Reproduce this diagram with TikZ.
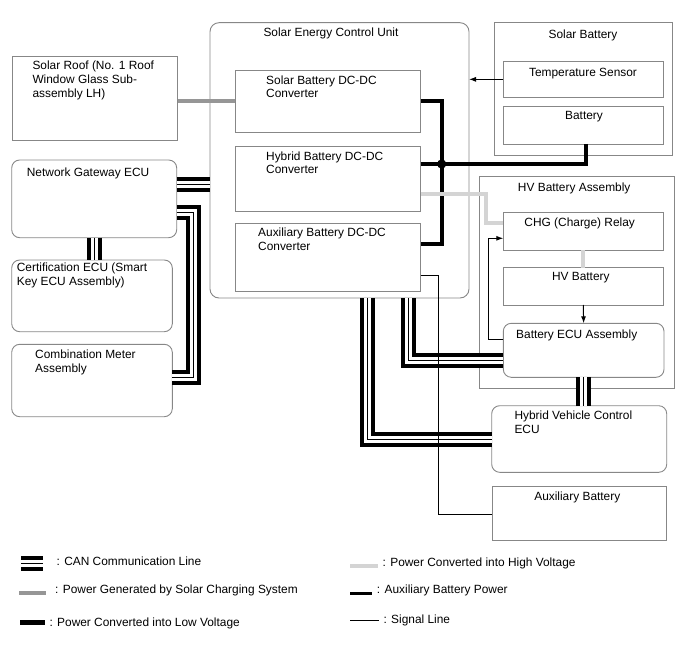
\documentclass[tikz,border=0pt]{standalone}
\usepackage{fontspec}
\setmainfont{Liberation Sans}
\usetikzlibrary{arrows.meta}
\definecolor{boxc}{RGB}{135,135,135}
\definecolor{solarc}{RGB}{150,150,150}
\definecolor{hvc}{RGB}{212,212,212}
\begin{document}
\begin{tikzpicture}[x=1pt,y=-1pt,
  box/.style={draw=boxc, line width=0.9pt, anchor=north west, inner sep=0pt, outer sep=0pt},
  rbox/.style={box, rounded corners=8pt},
  txt/.style={font=\fontsize{11.9}{14}\selectfont, inner sep=0pt, align=left, anchor=north west, execute at begin node={\rule{0pt}{10pt}}},
  ctxt/.style={font=\fontsize{11.9}{14}\selectfont, inner sep=0pt, anchor=base},
  ltxt/.style={font=\fontsize{11.9}{14}\selectfont, inner sep=0pt, anchor=base west},
  can/.style={line width=15pt, draw=black, line join=miter, postaction={draw=white, line width=7pt}, postaction={draw=black, line width=1pt}},
  lowv/.style={line width=4pt, black, line join=miter},
  auxp/.style={line width=4pt, black, line join=miter},
  solar/.style={line width=4pt, solarc},
  hv/.style={line width=4pt, hvc, line join=miter},
  sig/.style={line width=1pt, black},
  arr/.style={-{Latex[length=7pt,width=5pt]}},
]
\useasboundingbox (0,0) rectangle (688,658);

% ---- boxes ----
\node[rbox, rounded corners=9pt, minimum width=259pt, minimum height=275.3pt] (secu) at (210,22.7) {};
\node[box, minimum width=165pt, minimum height=83.3pt] (sroof) at (12.7,56.7) {};
\node[box, minimum width=185.4pt, minimum height=62pt] (sbdc) at (235.3,70) {};
\node[box, minimum width=185.4pt, minimum height=65.4pt] (hbdc) at (235.3,146.3) {};
\node[box, minimum width=185.4pt, minimum height=68.4pt] (abdc) at (235.3,223.3) {};
\node[box, minimum width=178.4pt, minimum height=132.3pt] (sbat) at (494.3,22.7) {};
\node[box, minimum width=160pt, minimum height=36.7pt] (ts) at (503.3,61) {};
\node[box, minimum width=160pt, minimum height=37.3pt] (bat) at (503.3,106.7) {};
\node[box, minimum width=195.3pt, minimum height=211.6pt] (hvasm) at (479,176.7) {};
\node[box, minimum width=160pt, minimum height=37.6pt] (chg) at (503.3,212.7) {};
\node[box, minimum width=160pt, minimum height=37.3pt] (hvb) at (503.3,267.7) {};
\node[rbox, minimum width=160.7pt, minimum height=54pt] (becu) at (503.3,323.3) {};
\node[rbox, minimum width=175pt, minimum height=66.6pt] (hvecu) at (491.7,405.7) {};
\node[box, minimum width=174.4pt, minimum height=53.3pt] (auxb) at (492.3,486.7) {};
\node[rbox, minimum width=165pt, minimum height=77.7pt] (gw) at (11.7,160) {};
\node[rbox, minimum width=160.6pt, minimum height=71.7pt] (cert) at (11.7,260) {};
\node[rbox, minimum width=160.6pt, minimum height=72.4pt] (meter) at (11.7,344.3) {};

% ---- texts ----
\node[ctxt] (tsecu) at (331,36.2) {Solar Energy Control Unit};
\node[txt] (tsroof) at (32.3,60.2) {Solar Roof (No. 1 Roof\\Window Glass Sub-\\assembly LH)};
\node[txt, font=\fontsize{11.9}{12.8}\selectfont] (tsbdc) at (266,75.9) {Solar Battery DC-DC\\Converter};
\node[txt, font=\fontsize{11.9}{13.2}\selectfont] (thbdc) at (266,151.2) {Hybrid Battery DC-DC\\Converter};
\node[txt] (tabdc) at (258,227.2) {Auxiliary Battery DC-DC\\Converter};
\node[ctxt] (tsbat) at (583,38.2) {Solar Battery};
\node[ctxt] (tts) at (583,76.2) {Temperature Sensor};
\node[ctxt] (tbat) at (584,119.9) {Battery};
\node[ctxt] (thvasm) at (574.2,191.5) {HV Battery Assembly};
\node[ctxt] (tchg) at (579.7,226.5) {CHG (Charge) Relay};
\node[ctxt] (thvb) at (580.8,280.9) {HV Battery};
\node[txt] (tbecu) at (516,328.2) {Battery ECU Assembly};
\node[txt] (thvecu) at (514.3,410.2) {Hybrid Vehicle Control\\ECU};
\node[ctxt] (tauxb) at (577.3,500.2) {Auxiliary Battery};
\node[txt] (tgw) at (26.7,165.9) {Network Gateway ECU};
\node[txt] (tcert) at (16.7,262.2) {Certification ECU (Smart\\Key ECU Assembly)};
\node[txt, font=\fontsize{11.9}{14.5}\selectfont] (tmeter) at (35,349.2) {Combination Meter\\Assembly};

% ---- power lines ----
\coordinate (j) at (441.7,164);
\coordinate (k) at (441.7,244);
\draw[solar] (sroof.east |- sbdc.west) -- (sbdc.west);
\draw[auxp] ([xshift=3pt]bat.south) |- (j);
\draw[lowv] (hbdc.east |- j) -- (j);
\draw[lowv] (sbdc.east) -| (k) -- (abdc.east |- k);
\fill (j) circle (4.6pt);
\coordinate (g1) at (485.7,194.3);
\coordinate (g2) at (485.7,223.3);
\draw[hv] (hbdc.east |- g1) -- (g1) -- (g2) -- (chg.west |- g2);
\draw[hv] (chg.south) -- (hvb.north);

% ---- CAN lines ----
\coordinate (c1) at (0,184.5);
\draw[can] (gw.east |- c1) -- (secu.west |- c1);
\draw[can] (gw.south) -- (gw.south |- cert.north);
\coordinate (c2) at (193.5,212.5);
\coordinate (c3) at (193.5,377.5);
\draw[can] (gw.east |- c2) -- (c2) -- (c3) -- (meter.east |- c3);
\coordinate (c5) at (367.5,439.3);
\draw[can] (secu.south -| c5) -- (c5) -- (hvecu.west |- c5);
\coordinate (c6) at (408.3,360.5);
\draw[can] (secu.south -| c6) -- (c6) -- (becu.west |- c6);
\draw[can] (becu.south) -- (becu.south |- hvecu.north);

% ---- signal lines ----
\draw[sig,arr] (ts.west) -- (secu.east |- ts.west);
\draw[sig,arr] (hvb.south) -- (becu.north);
\coordinate (s1) at (488.3,339.3);
\coordinate (s2) at (488.3,238.3);
\draw[sig,arr] (becu.west |- s1) -- (s1) -- (s2) -- (chg.west |- s2);
\coordinate (s3) at (438.3,275);
\coordinate (s4) at (438.3,514.3);
\draw[sig] (abdc.east |- s3) -- (s3) -- (s4) -- (auxb.west |- s4);

% ---- legend ----
\draw[can] (21,563.7) -- (43,563.7);
\node[ltxt] (l1) at (56.4,565.2) {: CAN Communication Line};
\draw[solar] (19,593.3) -- (45.7,593.3);
\node[ltxt] (l2) at (55,593.2) {: Power Generated by Solar Charging System};
\draw[line width=4.5pt] (20,622.3) -- (45,622.3);
\node[ltxt] (l3) at (49.3,626.2) {: Power Converted into Low Voltage};
\draw[hv] (350,566) -- (378,566);
\node[ltxt] (l4) at (382.4,566.2) {: Power Converted into High Voltage};
\draw[line width=3pt] (350,593.5) -- (372,593.5);
\node[ltxt] (l5) at (376.7,593.2) {: Auxiliary Battery Power};
\draw[sig] (350,620) -- (379,620);
\node[ltxt] (l6) at (383.3,623.2) {: Signal Line};
\end{tikzpicture}
\end{document}
